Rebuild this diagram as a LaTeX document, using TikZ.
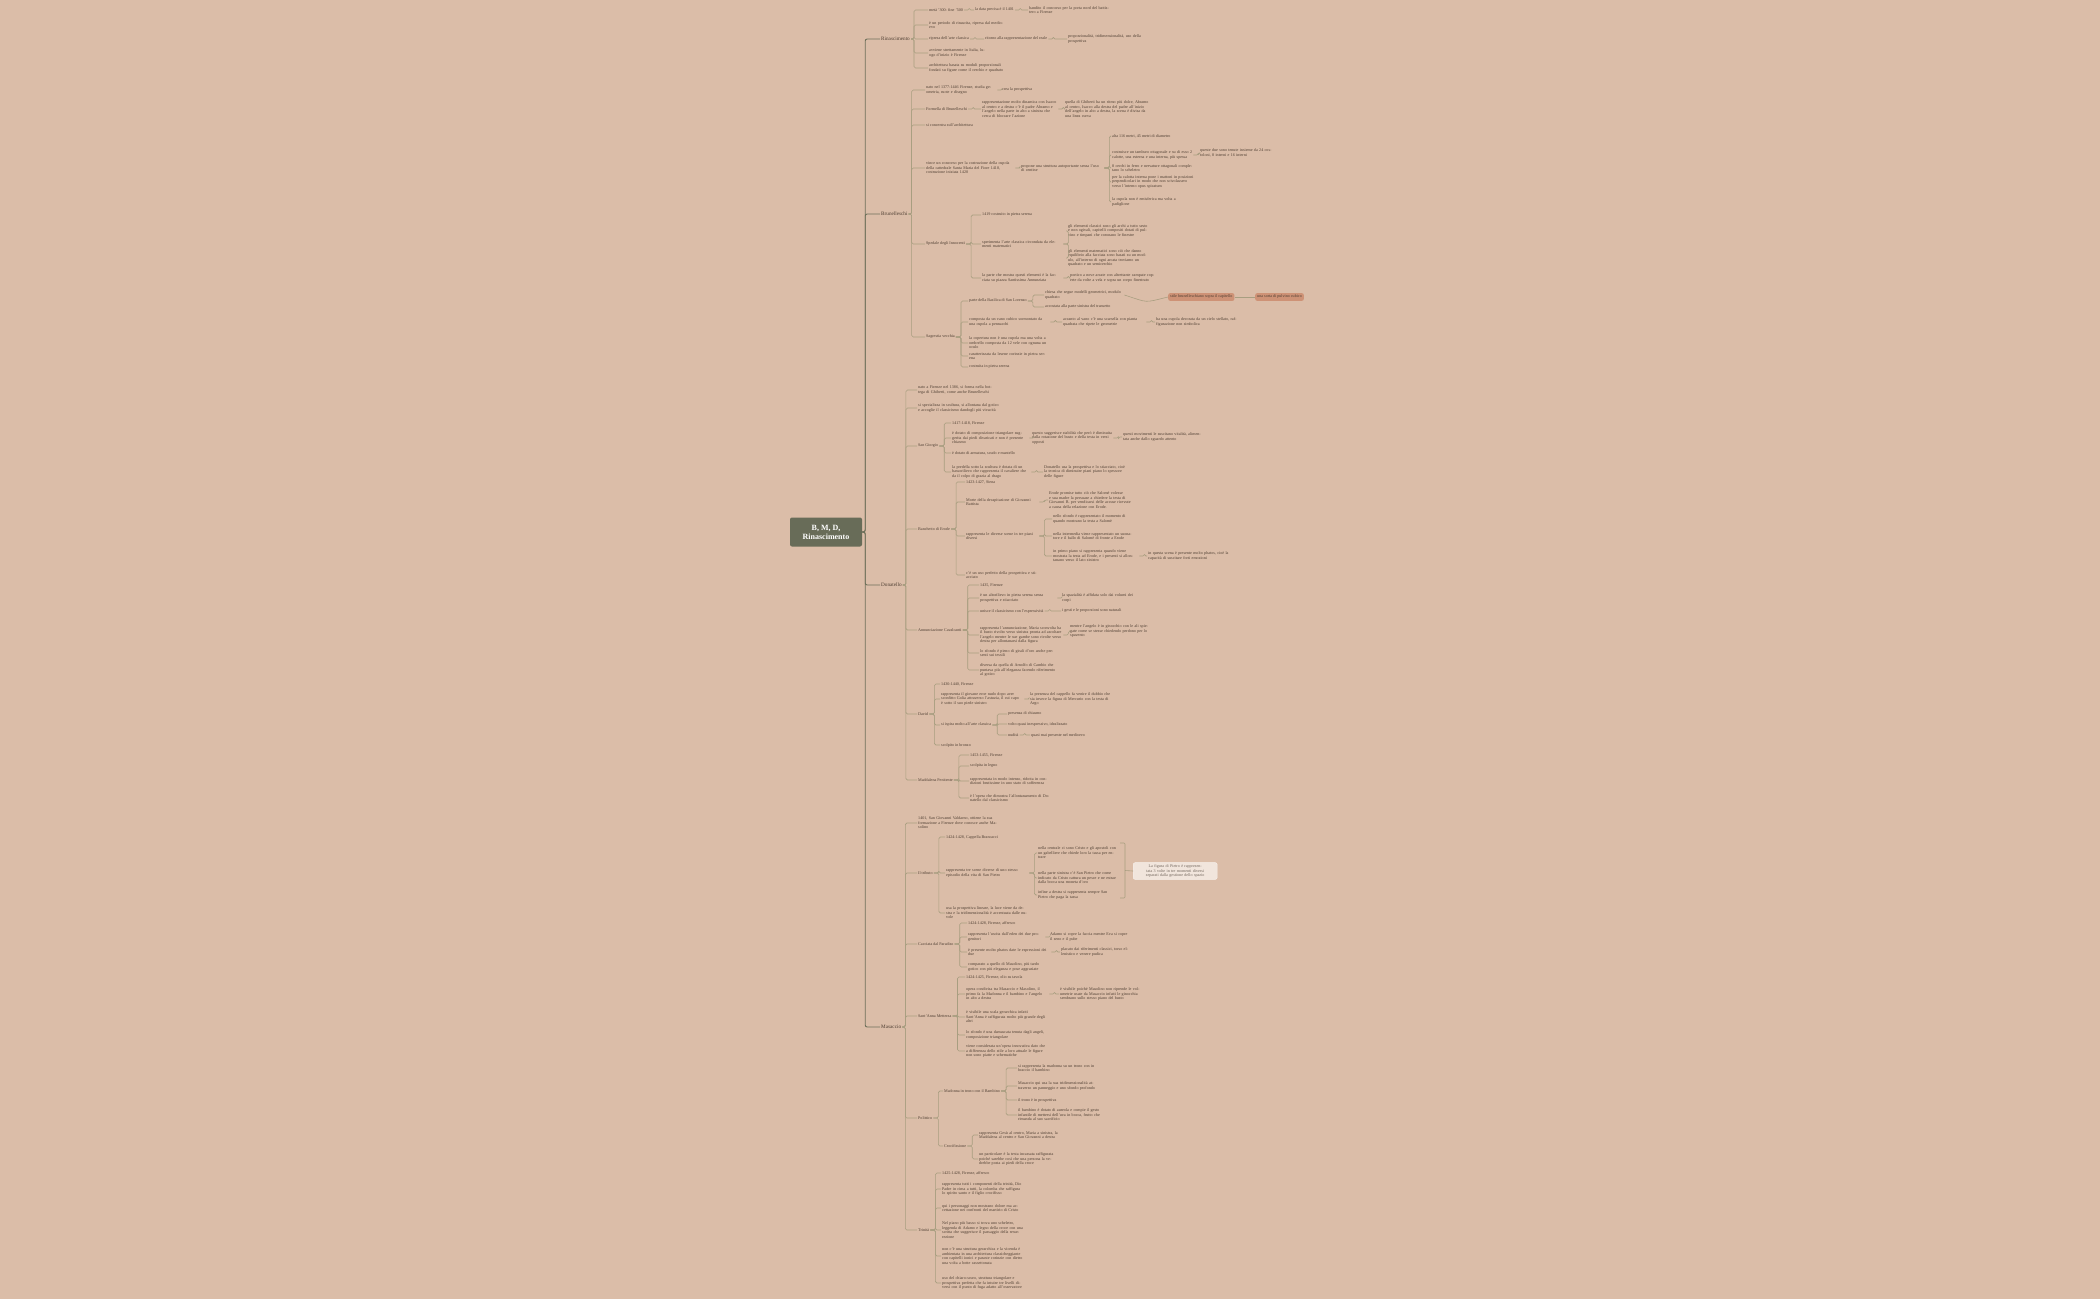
\documentclass[tikz,border=0pt]{standalone}
\usepackage{fontspec}
\setmainfont{Liberation Serif}
\usepackage{xcolor}
\usepackage{tikz}
\usetikzlibrary{positioning, calc}
\definecolor{bgColor}{RGB}{219, 189, 168}
\definecolor{rootColor}{RGB}{104, 108, 88}
\definecolor{mainLine}{RGB}{110, 112, 90}
\definecolor{subLine}{RGB}{168, 158, 128}
\definecolor{inkColor}{RGB}{78, 62, 50}
\definecolor{hiColor}{RGB}{206, 146, 118}
\newcommand{\conn}[3][5]{\draw[branch] (#2.east) -- ++(#1,0) |- (#3.west);}

\begin{document}
\begin{tikzpicture}[
    x=1pt, y=1pt,
    root/.style={rectangle, rounded corners=2pt, fill=rootColor, text=white, align=center, minimum width=72pt, minimum height=29pt, font=\fontsize{8}{9}\selectfont\bfseries},
    topic/.style={anchor=west, inner sep=1pt, text=inkColor, font=\fontsize{5.2}{6}\selectfont},
    leaf/.style={anchor=west, inner sep=1pt, text=inkColor, font=\fontsize{4.1}{4.5}\selectfont},
    leafw/.style={leaf, text width=#1, align=left},
    leafw/.default=76pt,
    branch/.style={subLine, line width=0.6pt, rounded corners=1.5pt},
    trunk/.style={mainLine, line width=0.9pt, rounded corners=2pt},
    hilite/.style={anchor=west, rounded corners=2pt, fill=hiColor, text=inkColor, inner sep=2pt, font=\fontsize{4.1}{4.5}\selectfont}
]
    \useasboundingbox[fill=bgColor] (0,0) rectangle (2100,-1299);

    % root and main topics
    \node[root] (root) at (826,-532) {B, M, D,\\Rinascimento};
    \node[topic] (rin) at (880,-39) {Rinascimento};
    \node[topic] (bru) at (880,-214) {Brunelleschi};
    \node[topic] (don) at (880,-585) {Donatello};
    \node[topic] (mas) at (880,-1027) {Masaccio};
    \foreach \t in {rin, bru, don, mas}
        {\draw[trunk] (root.east) -- ++(3,0) |- (\t.west);}

    % Rinascimento
    \node[leaf] (r1) at (928,-10) {metà '300- fine '500};
    \node[leaf] (r1a) at (974,-10) {la data precisa è il 1401};
    \node[leafw=80pt] (r1b) at (1028,-10) {bandito il concorso per la porta nord del battistero a Firenze};
    \node[leafw] (r2) at (928,-25) {è un periodo di rinascita, ripresa dal medioevo};
    \node[leaf] (r3) at (928,-39) {ripresa dell'arte classica};
    \node[leaf] (r3a) at (984,-39) {ritorno alla rappresentazione del reale};
    \node[leafw=85pt] (r3b) at (1067,-39) {proporzionalità, tridimensionalità, uso della prospettiva};
    \node[leafw=60pt] (r4) at (928,-53) {avviene strettamente in Italia, luogo d'inizio è Firenze};
    \node[leafw] (r5) at (928,-68) {architettura basata su moduli proporzionali fondati su figure come il cerchio e quadrato};
    \foreach \c in {r1, r2, r3, r4, r5} {\conn[3]{rin}{\c}}
    \conn{r1}{r1a} \conn{r1a}{r1b} \conn{r3}{r3a} \conn{r3a}{r3b}

    % Brunelleschi
    \node[leafw=70pt] (b1) at (925,-90) {nato nel 1377-1446 Firenze, studia geometria, ruote e disegno};
    \node[leaf] (b1a) at (1001,-90) {crea la prospettiva};
    \node[leaf] (b2) at (925,-109) {Formella di Brunelleschi};
    \node[leafw=75pt] (b2a) at (981,-109) {rappresentazione molto dinamica con Isacco al centro e a destra c'è il padre Abramo e l'angelo nella parte in alto a sinistra che cerca di bloccare l'azione};
    \node[leafw=85pt] (b2b) at (1064,-109) {quella di Ghiberti ha un ritmo più dolce, Abramo al centro, Isacco alla destra del padre all'inizio dell'angelo in alto a destra, la scena è divisa da una linea curva};
    \node[leaf] (b3) at (925,-125) {si concentra sull'architettura};
    \node[leafw=88pt] (b4) at (925,-168) {vince un concorso per la costruzione della cupola della cattedrale Santa Maria del Fiore 1418, costruzione iniziata 1420};
    \node[leafw=82pt] (b4a) at (1020,-168) {propone una struttura autoportante senza l'uso di centine};
    \node[leaf] (c1) at (1111,-136) {alta 116 metri, 45 metri di diametro};
    \node[leafw=80pt] (c2) at (1111,-155) {costruisce un tamburo ottagonale e su di esso 2 calotte, una esterna e una interna, più spessa};
    \node[leafw=80pt] (c2a) at (1199,-153) {queste due sono tenute insieme da 24 costoloni, 8 interni e 16 interni};
    \node[leafw=80pt] (c3) at (1111,-168) {8 cerchi in ferro e nervature ottagonali completano lo scheletro};
    \node[leafw=82pt] (c4) at (1111,-182) {per la calotta interna pone i mattoni in posizioni perpendicolari in modo che non scivolassero verso l'interno opus spicatum};
    \node[leafw=72pt] (c5) at (1111,-202) {la cupola non è emisferica ma volta a padiglione};
    \node[leaf] (b5) at (925,-244) {Spedale degli Innocenti};
    \node[leaf] (b5a) at (981,-215) {1419 costruito in pietra serena};
    \node[leafw=80pt] (b5b) at (981,-244) {sperimenta l'arte classica circondata da elementi matematici};
    \node[leafw=82pt] (s1) at (1067,-231) {gli elementi classici sono gli archi a tutto sesto e non ogivali, capitelli compositi dotati di pulvino e timpani che coronano le finestre};
    \node[leafw=82pt] (s2) at (1067,-258) {gli elementi matematici sono ciò che danno equilibrio alla facciata sono basati su un modulo, all'interno di ogni arcata troviamo un quadrato e un semicerchio};
    \node[leafw=80pt] (b5c) at (981,-278) {la parte che mostra questi elementi è la facciata su piazza Santissima Annunziata};
    \node[leafw=85pt] (b5d) at (1069,-278) {portico a nove arcate con altrettante campate coperte da volte a vela e sopra un corpo finestrato};
    \node[leaf] (b6) at (925,-337) {Sagrestia vecchia};
    \node[leaf] (g1) at (968,-301) {parte della Basilica di San Lorenzo};
    \node[leafw=78pt] (g1a) at (1044,-295) {chiesa che segue modelli geometrici, modulo quadrato};
    \node[leaf] (g1b) at (1044,-307) {accostata alla parte sinistra del transetto};
    \node[hilite] (hi1) at (1168,-297) {stile brunelleschiano sopra il capitello};
    \node[hilite] (hi2) at (1255,-297) {una sorta di pulvino cubico};
    \node[leafw=80pt] (g2) at (968,-322) {composta da un vano cubico sormontato da una cupola a pennacchi};
    \node[leafw=82pt] (g2a) at (1062,-322) {accanto al vano c'è una scarsella con pianta quadrata che ripete le geometrie};
    \node[leafw=82pt] (g2b) at (1155,-322) {ha una cupola decorata da un cielo stellato, raffigurazione non simbolica};
    \node[leafw=82pt] (g3) at (968,-343) {la copertura non è una cupola ma una volta a ombrello composta da 12 vele con ognuna un oculo};
    \node[leafw=80pt] (g4) at (968,-356) {caratterizzata da lesene corinzie in pietra serena};
    \node[leaf] (g5) at (968,-367) {costruita in pietra serena};
    \foreach \c in {b1, b2, b3, b4, b5, b6} {\conn[3]{bru}{\c}}
    \conn{b1}{b1a} \conn{b2}{b2a} \conn{b2a}{b2b} \conn{b4}{b4a}
    \foreach \c in {c1, c2, c3, c4, c5} {\conn{b4a}{\c}}
    \conn{c2}{c2a}
    \foreach \c in {b5a, b5b, b5c} {\conn{b5}{\c}}
    \conn{b5b}{s1} \conn{b5b}{s2} \conn{b5c}{b5d}
    \foreach \c in {g1, g2, g3, g4, g5} {\conn{b6}{\c}}
    \conn{g1}{g1a} \conn{g1}{g1b} \conn{g2}{g2a} \conn{g2a}{g2b}
    \draw[branch] (g1a.east) .. controls ++(25,-8) and ++(-25,-6) .. (hi1.west);
    \draw[branch] (hi1) -- (hi2);

    % Donatello
    \node[leafw] (d1) at (917,-390) {nato a Firenze nel 1386, si forma nella bottega di Ghiberti, come anche Brunelleschi};
    \node[leafw=82pt] (d2) at (917,-408) {si specializza in scultura, si allontana dal gotico e accoglie il classicismo dandogli più vivacità};
    \node[leaf] (d3) at (917,-446) {San Giorgio};
    \node[leaf] (d3a) at (951,-423) {1417-1418, Firenze};
    \node[leafw=76pt] (d3b) at (951,-438) {è dotato di composizione triangolare suggerita dai piedi divaricati e non è presente chiasmo};
    \node[leafw=80pt] (d3b1) at (1031,-438) {questo suggerisce stabilità che però è diminuita dalla rotazione del busto e della testa in versi opposti};
    \node[leafw=82pt] (d3b2) at (1122,-437) {questi movimenti le suscitano vitalità, alimentata anche dallo sguardo attento};
    \node[leaf] (d3c) at (951,-453) {è dotato di armatura, scudo e mantello};
    \node[leafw=78pt] (d3d) at (951,-472) {la predella sotto la scultura è dotata di un bassorilievo che rappresenta il cavaliere che da il colpo di grazia al drago};
    \node[leafw=82pt] (d3d1) at (1043,-472) {Donatello usa la prospettiva e lo stiacciato, cioè la tecnica di diminuire piani piano lo spessore delle figure};
    \node[leaf] (d4) at (917,-529) {Banchetto di Erode};
    \node[leaf] (d4a) at (965,-482) {1423-1427, Siena};
    \node[leafw=72pt] (d4b) at (965,-502) {Morte della decapitazione di Giovanni Battista};
    \node[leafw=82pt] (d4b1) at (1048,-500) {Erode promise tutto ciò che Salomè volesse e sua madre la persuase a chiedere la testa di Giovanni B. per vendicarsi delle accuse ricevute a causa della relazione con Erode.};
    \node[leafw=72pt] (d4c) at (965,-536) {rappresenta le diverse scene in tre piani diversi};
    \node[leafw=82pt] (e1) at (1052,-519) {nello sfondo è rappresentato il momento di quando mostrano la testa a Salomè};
    \node[leafw=82pt] (e2) at (1052,-536) {nella intermedia viene rappresentato un suonatore e il ballo di Salomè di fronte a Erode};
    \node[leafw=85pt] (e3) at (1052,-556) {in primo piano si rappresenta quando viene mostrata la testa ad Erode, e i presenti si allontanano verso il lato sinistro};
    \node[leafw=82pt] (e3a) at (1147,-556) {in questa scena è presente molto phatos, cioè la capacità di suscitare forti emozioni};
    \node[leafw=72pt] (d4d) at (965,-575) {c'è un uso perfetto della prospettiva e stiacciato};
    \node[leaf] (d5) at (917,-630) {Annunciazione Cavalcanti};
    \node[leaf] (d5a) at (979,-585) {1435, Firenze};
    \node[leafw=76pt] (d5b) at (979,-598) {è un altorilievo in pietra serena senza prospettiva e stiacciato};
    \node[leafw=80pt] (d5b1) at (1061,-598) {la spazialità è affidata solo dai volumi dei corpi};
    \node[leaf] (d5c) at (979,-611) {unisce il classicismo con l'espressività};
    \node[leaf] (d5c1) at (1061,-611) {i gesti e le proporzioni sono naturali};
    \node[leafw=82pt] (d5d) at (979,-635) {rappresenta l'annunciazione, Maria sconvolta ha il busto rivolto verso sinistra pronta ad ascoltare l'angelo mentre le sue gambe sono rivolte verso destra per allontanarsi dalla figura};
    \node[leafw=82pt] (d5d1) at (1069,-631) {mentre l'angelo è in ginocchio con le ali spiegate come se stesse chiedendo perdono per lo spavento};
    \node[leafw=76pt] (d5e) at (979,-653) {lo sfondo è pieno di girali d'oro anche presenti sui tessili};
    \node[leafw=82pt] (d5f) at (979,-670) {diversa da quella di Arnolfo di Cambio che puntava più all'eleganza facendo riferimento al gotico};
    \node[leaf] (d6) at (917,-714) {David};
    \node[leaf] (d6a) at (940,-684) {1430-1440, Firenze};
    \node[leafw=82pt] (d6b) at (940,-699) {rappresenta il giovane eroe nudo dopo aver sconfitto Golia attraverso l'astuzia, il cui capo è sotto il suo piede sinistro};
    \node[leafw=82pt] (d6b1) at (1029,-699) {la presenza del cappello fa venire il dubbio che sia invece la figura di Mercurio con la testa di Argo};
    \node[leaf] (d6c) at (940,-725) {si ispira molto all'arte classica};
    \node[leaf] (f1) at (1007,-714) {presenza di chiasmo};
    \node[leaf] (f2) at (1007,-724) {volto quasi inespressivo, idealizzato};
    \node[leaf] (f3) at (1007,-735) {nudità};
    \node[leaf] (f3a) at (1030,-735) {quasi mai presente nel medioevo};
    \node[leaf] (d6d) at (940,-745) {scolpito in bronzo};
    \node[leaf] (d7) at (917,-780) {Maddalena Penitente};
    \node[leaf] (d7a) at (969,-755) {1453-1455, Firenze};
    \node[leaf] (d7b) at (969,-766) {scolpita in legno};
    \node[leafw=80pt] (d7c) at (969,-781) {rappresentata in modo intenso, ridotta in condizioni brutissime in uno stato di sofferenza};
    \node[leafw=82pt] (d7d) at (969,-798) {è l'opera che dimostra l'allontanamento di Donatello dal classicismo};
    \foreach \c in {d1, d2, d3, d4, d5, d6, d7} {\conn[3]{don}{\c}}
    \foreach \c in {d3a, d3b, d3c, d3d} {\conn{d3}{\c}}
    \conn{d3b}{d3b1} \conn{d3b1}{d3b2} \conn{d3d}{d3d1}
    \foreach \c in {d4a, d4b, d4c, d4d} {\conn{d4}{\c}}
    \conn{d4b}{d4b1}
    \foreach \c in {e1, e2, e3} {\conn{d4c}{\c}}
    \conn{e3}{e3a}
    \foreach \c in {d5a, d5b, d5c, d5d, d5e, d5f} {\conn{d5}{\c}}
    \conn{d5b}{d5b1} \conn{d5c}{d5c1} \conn{d5d}{d5d1}
    \foreach \c in {d6a, d6b, d6c, d6d} {\conn{d6}{\c}}
    \conn{d6b}{d6b1}
    \foreach \c in {f1, f2, f3} {\conn{d6c}{\c}}
    \conn{f3}{f3a}
    \foreach \c in {d7a, d7b, d7c, d7d} {\conn{d7}{\c}}

    % Masaccio
    \node[leafw=82pt] (m1) at (917,-823) {1401, San Giovanni Valdarno, ottiene la sua formazione a Firenze dove conosce anche Masolino};
    \node[leaf] (m2) at (917,-873) {Il tributo};
    \node[leaf] (m2a) at (945,-837) {1424-1428, Cappella Brancacci};
    \node[leafw=82pt] (m2b) at (945,-873) {rappresenta tre scene diverse di uno stesso episodio della vita di San Pietro};
    \node[leafw=80pt] (t1) at (1037,-853) {nella centrale ci sono Cristo e gli apostoli con un gabelliere che chiede loro la tassa per entrare};
    \node[leafw=80pt] (t2) at (1037,-878) {nella parte sinistra c'è San Pietro che come indicato da Cristo cattura un pesce e ne estrae dalla bocca una moneta d'oro};
    \node[leafw=80pt] (t3) at (1037,-895) {infine a destra si rappresenta sempre San Pietro che paga la tassa};
    \node[anchor=west, rounded corners=2pt, fill=white!60!bgColor, draw=white!80!bgColor, text=inkColor!80, text width=80pt, align=center, inner sep=2pt, font=\fontsize{4.1}{4.5}\selectfont] (sum) at (1133,-871) {La figura di Pietro è rappresentata 3 volte in tre momenti diversi separati dalla gestione dello spazio};
    \coordinate (bt) at (1120,-843);
    \coordinate (bb) at (1120,-898);
    \node[leafw=82pt] (m2c) at (945,-913) {usa la prospettiva lineare, la luce viene da destra e la tridimensionalità è accentuata dalle nuvole};
    \node[leaf] (m3) at (917,-944) {Cacciata dal Paradiso};
    \node[leaf] (m3a) at (967,-923) {1424-1428, Firenze, affresco};
    \node[leafw=76pt] (m3b) at (967,-937) {rappresenta l'uscita dall'eden dei due progenitori};
    \node[leafw=80pt] (m3b1) at (1049,-937) {Adamo si copre la faccia mentre Eva si copre il seno e il pube};
    \node[leafw=82pt] (m3c) at (967,-952) {è presente molto phatos date le espressioni dei due};
    \node[leafw=72pt] (m3c1) at (1060,-952) {placato dai riferimenti classici, torso ellenistico e venere pudica};
    \node[leafw=80pt] (m3d) at (967,-967) {comparato a quello di Masolino, più tardo gotico con più eleganza e pose aggraziate};
    \node[leaf] (m4) at (917,-1016) {Sant'Anna Metterza};
    \node[leaf] (m4a) at (965,-977) {1424-1425, Firenze, olio su tavola};
    \node[leafw=82pt] (m4b) at (965,-994) {opera condivisa tra Masaccio e Masolino, il primo fa la Madonna e il bambino e l'angelo in alto a destra};
    \node[leafw=82pt] (m4b1) at (1059,-994) {è visibile poiché Masolino non riprende le volumetrie usate da Masaccio infatti le ginocchia sembrano sullo stesso piano del busto};
    \node[leafw=80pt] (m4c) at (965,-1017) {è visibile una scala gerarchica infatti Sant'Anna è raffigurata molto più grande degli altri};
    \node[leafw=80pt] (m4d) at (965,-1035) {lo sfondo è una damascata tenuta dagli angeli, composizione triangolare};
    \node[leafw=82pt] (m4e) at (965,-1051) {viene considerata un'opera innovativa dato che a differenza dello stile a loro attuale le figure non sono piatte e schematiche};
    \node[leaf] (m5) at (917,-1118) {Polittico};
    \node[leaf] (p1) at (943,-1091) {Madonna in trono con il Bambino};
    \node[leafw=82pt] (p1a) at (1017,-1068) {si rappresenta la madonna su un trono con in braccio il bambino};
    \node[leafw=80pt] (p1b) at (1017,-1086) {Masaccio qui usa la sua tridimensionalità attraverso un panneggio e uno sfondo profondo};
    \node[leaf] (p1c) at (1017,-1100) {il trono è in prospettiva};
    \node[leafw=84pt] (p1d) at (1017,-1115) {il bambino è dotato di aureola e compie il gesto infantile di mettersi dell'uva in bocca, frutto che rimanda al suo sacrificio};
    \node[leaf] (p2) at (943,-1146) {Crocifissione};
    \node[leafw=82pt] (p2a) at (978,-1135) {rappresenta Gesù al centro, Maria a sinistra, la Maddalena al centro e San Giovanni a destra};
    \node[leafw=80pt] (p2b) at (978,-1159) {un particolare è la testa incassata raffigurata poiché sarebbe così che una persona la vedrebbe posta ai piedi della croce};
    \node[leaf] (m6) at (917,-1230) {Trinità};
    \node[leaf] (q1) at (941,-1173) {1425-1428, Firenze, affresco};
    \node[leafw=82pt] (q2) at (941,-1189) {rappresenta tutti i componenti della trinità, Dio Padre in cima a tutti, la colomba che raffigura lo spirito santo e il figlio crocifisso};
    \node[leafw=80pt] (q3) at (941,-1208) {qui i personaggi non mostrano dolore ma accettazione nei confronti del martirio di Cristo};
    \node[leafw=82pt] (q4) at (941,-1230) {Nel piano più basso si trova uno scheletro, leggenda di Adamo e legno della croce con una scritta che suggerisce il passaggio della resurrezione};
    \node[leafw=82pt] (q5) at (941,-1256) {non c'è una struttura gerarchica e la vicenda è ambientata in una architettura classicheggiante con capitelli ionici e paraste corinzie con dietro una volta a botte cassettonata};
    \node[leafw=82pt] (q6) at (941,-1283) {uso del chiaro-scuro, struttura triangolare e prospettiva perfetta che fa intuire tre livelli diversi con il punto di fuga adatto all'osservatore};
    \foreach \c in {m1, m2, m3, m4, m5, m6} {\conn[3]{mas}{\c}}
    \foreach \c in {m2a, m2b, m2c} {\conn{m2}{\c}}
    \foreach \c in {t1, t2, t3} {\conn{m2b}{\c}}
    \draw[branch, rounded corners=1pt] (bt) -- ++(5,0) -- ($(bb)+(5,0)$) -- (bb);
    \draw[branch] ($(bt)!0.5!(bb)+(5,0)$) -- (sum.west);
    \foreach \c in {m3a, m3b, m3c, m3d} {\conn{m3}{\c}}
    \conn{m3b}{m3b1} \conn{m3c}{m3c1}
    \foreach \c in {m4a, m4b, m4c, m4d, m4e} {\conn{m4}{\c}}
    \conn{m4b}{m4b1}
    \conn{m5}{p1} \conn{m5}{p2}
    \foreach \c in {p1a, p1b, p1c, p1d} {\conn{p1}{\c}}
    \conn{p2}{p2a} \conn{p2}{p2b}
    \foreach \c in {q1, q2, q3, q4, q5, q6} {\conn{m6}{\c}}
\end{tikzpicture}
\end{document}
